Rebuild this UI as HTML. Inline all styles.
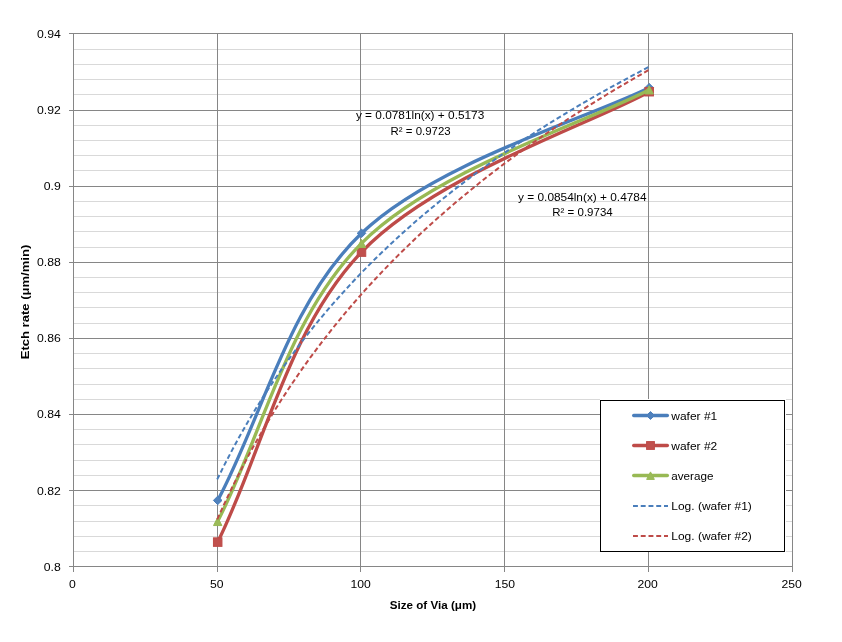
<!DOCTYPE html>
<html lang="en"><head><meta charset="utf-8"><title>Etch rate vs Size of Via</title>
<style>html,body{margin:0;padding:0;background:#fff}body{width:842px;height:642px;overflow:hidden}</style></head>
<body>
<svg width="842" height="642" viewBox="0 0 842 642" style="display:block;font-family:'Liberation Sans', sans-serif">
<rect width="842" height="642" fill="#fff"/>
<path d="M73 49.5H793M73 64.5H793M73 79.5H793M73 94.5H793M73 125.5H793M73 140.5H793M73 155.5H793M73 170.5H793M73 201.5H793M73 216.5H793M73 231.5H793M73 247.5H793M73 277.5H793M73 292.5H793M73 307.5H793M73 323.5H793M73 353.5H793M73 368.5H793M73 384.5H793M73 399.5H793M73 429.5H793M73 444.5H793M73 460.5H793M73 475.5H793M73 505.5H793M73 521.5H793M73 536.5H793M73 551.5H793" stroke="#d9d9d9" stroke-width="1" fill="none" shape-rendering="crispEdges"/>
<path d="M69 33.5H793M69 110.5H793M69 186.5H793M69 262.5H793M69 338.5H793M69 414.5H793M69 490.5H793M69 566.5H793M73.5 33V572M217.5 33V572M360.5 33V572M504.5 33V572M648.5 33V572M792.5 33V572" stroke="#868686" stroke-width="1" fill="none" shape-rendering="crispEdges"/>
<path d="M217.7 500.4 C262.3 417.6 287.3 304.3 361.5 233.3 C435.7 162.3 591.7 116.8 649.2 87.7" stroke="#4a7ebb" stroke-width="3.3" fill="none" stroke-linecap="round" stroke-linejoin="round"/>
<path d="M217.7 496.1L222.0 500.4L217.7 504.7L213.4 500.4Z" fill="#4f81bd" stroke="#4a7ebb" stroke-width="1" stroke-linejoin="miter"/>
<path d="M361.5 229.0L365.8 233.3L361.5 237.6L357.2 233.3Z" fill="#4f81bd" stroke="#4a7ebb" stroke-width="1" stroke-linejoin="miter"/>
<path d="M649.2 83.4L653.5 87.7L649.2 92.0L644.9 87.7Z" fill="#4f81bd" stroke="#4a7ebb" stroke-width="1" stroke-linejoin="miter"/>
<path d="M217.7 542.1 C262.3 452.2 287.3 329.6 361.5 252.1 C435.7 174.6 591.7 123.8 649.2 91.7" stroke="#be4b48" stroke-width="3.3" fill="none" stroke-linecap="round" stroke-linejoin="round"/>
<rect x="213.45" y="537.85" width="8.5" height="8.5" fill="#c0504d" stroke="#be4b48" stroke-width="1" stroke-linejoin="miter"/>
<rect x="357.25" y="247.85" width="8.5" height="8.5" fill="#c0504d" stroke="#be4b48" stroke-width="1" stroke-linejoin="miter"/>
<rect x="644.95" y="87.45" width="8.5" height="8.5" fill="#c0504d" stroke="#be4b48" stroke-width="1" stroke-linejoin="miter"/>
<path d="M217.7 521.3 C262.3 435.1 287.3 317.5 361.5 243.3 C435.7 169.1 591.7 120.4 649.2 89.7" stroke="#98b954" stroke-width="3.3" fill="none" stroke-linecap="round" stroke-linejoin="round"/>
<path d="M217.7 517.35L221.9 525.55L213.5 525.55Z" fill="#9bbb59" stroke="#98b954" stroke-width="1" stroke-linejoin="miter"/>
<path d="M361.5 239.35L365.7 247.55L357.3 247.55Z" fill="#9bbb59" stroke="#98b954" stroke-width="1" stroke-linejoin="miter"/>
<path d="M649.2 85.75L653.4 93.95L645.0 93.95Z" fill="#9bbb59" stroke="#98b954" stroke-width="1" stroke-linejoin="miter"/>
<path d="M217.2 479.4 L224.4 464.9 L231.6 451.1 L238.8 437.8 L246.0 425.2 L253.1 413.1 L260.3 401.4 L267.5 390.2 L274.7 379.4 L281.9 368.9 L289.1 358.8 L296.3 349.1 L303.4 339.6 L310.6 330.5 L317.8 321.6 L325.0 313.0 L332.2 304.6 L339.4 296.5 L346.6 288.6 L353.8 280.8 L360.9 273.3 L368.1 266.0 L375.3 258.8 L382.5 251.8 L389.7 245.0 L396.9 238.3 L404.1 231.7 L411.3 225.3 L418.4 219.1 L425.6 213.0 L432.8 207.0 L440.0 201.1 L447.2 195.3 L454.4 189.6 L461.6 184.1 L468.8 178.6 L475.9 173.3 L483.1 168.0 L490.3 162.8 L497.5 157.7 L504.7 152.7 L511.9 147.8 L519.1 143.0 L526.3 138.2 L533.4 133.5 L540.6 128.9 L547.8 124.4 L555.0 119.9 L562.2 115.5 L569.4 111.2 L576.6 106.9 L583.8 102.7 L590.9 98.5 L598.1 94.4 L605.3 90.4 L612.5 86.4 L619.7 82.5 L626.9 78.6 L634.1 74.7 L641.3 70.9 L648.4 67.2" stroke="#4a7ebb" stroke-width="2" stroke-dasharray="4.9 2.828" fill="none"/>
<path d="M217.2 519.4 L224.4 503.6 L231.6 488.5 L238.8 474.1 L246.0 460.3 L253.1 447.1 L260.3 434.4 L267.5 422.2 L274.7 410.4 L281.9 399.0 L289.1 388.0 L296.3 377.4 L303.4 367.1 L310.6 357.1 L317.8 347.5 L325.0 338.1 L332.2 328.9 L339.4 320.1 L346.6 311.4 L353.8 303.0 L360.9 294.8 L368.1 286.8 L375.3 279.0 L382.5 271.4 L389.7 263.9 L396.9 256.6 L404.1 249.5 L411.3 242.5 L418.4 235.7 L425.6 229.0 L432.8 222.5 L440.0 216.1 L447.2 209.8 L454.4 203.6 L461.6 197.6 L468.8 191.6 L475.9 185.8 L483.1 180.0 L490.3 174.4 L497.5 168.9 L504.7 163.4 L511.9 158.1 L519.1 152.8 L526.3 147.6 L533.4 142.5 L540.6 137.5 L547.8 132.5 L555.0 127.7 L562.2 122.9 L569.4 118.1 L576.6 113.5 L583.8 108.9 L590.9 104.3 L598.1 99.9 L605.3 95.5 L612.5 91.1 L619.7 86.8 L626.9 82.6 L634.1 78.4 L641.3 74.3 L648.4 70.2" stroke="#be4b48" stroke-width="2" stroke-dasharray="4.9 2.870" fill="none"/>
<text x="37.0" y="38" font-size="11.6" text-anchor="start" font-weight="normal" fill="#000000" textLength="23.8" lengthAdjust="spacingAndGlyphs">0.94</text>
<text x="37.0" y="114" font-size="11.6" text-anchor="start" font-weight="normal" fill="#000000" textLength="23.8" lengthAdjust="spacingAndGlyphs">0.92</text>
<text x="43.8" y="190" font-size="11.6" text-anchor="start" font-weight="normal" fill="#000000" textLength="17.0" lengthAdjust="spacingAndGlyphs">0.9</text>
<text x="37.0" y="266" font-size="11.6" text-anchor="start" font-weight="normal" fill="#000000" textLength="23.8" lengthAdjust="spacingAndGlyphs">0.88</text>
<text x="37.0" y="342" font-size="11.6" text-anchor="start" font-weight="normal" fill="#000000" textLength="23.8" lengthAdjust="spacingAndGlyphs">0.86</text>
<text x="37.0" y="418" font-size="11.6" text-anchor="start" font-weight="normal" fill="#000000" textLength="23.8" lengthAdjust="spacingAndGlyphs">0.84</text>
<text x="37.0" y="495" font-size="11.6" text-anchor="start" font-weight="normal" fill="#000000" textLength="23.8" lengthAdjust="spacingAndGlyphs">0.82</text>
<text x="43.8" y="571" font-size="11.6" text-anchor="start" font-weight="normal" fill="#000000" textLength="17.0" lengthAdjust="spacingAndGlyphs">0.8</text>
<text x="69.0" y="588" font-size="11.6" text-anchor="start" font-weight="normal" fill="#000000" textLength="6.8" lengthAdjust="spacingAndGlyphs">0</text>
<text x="210.1" y="588" font-size="11.6" text-anchor="start" font-weight="normal" fill="#000000" textLength="13.5" lengthAdjust="spacingAndGlyphs">50</text>
<text x="350.4" y="588" font-size="11.6" text-anchor="start" font-weight="normal" fill="#000000" textLength="20.3" lengthAdjust="spacingAndGlyphs">100</text>
<text x="494.7" y="588" font-size="11.6" text-anchor="start" font-weight="normal" fill="#000000" textLength="20.3" lengthAdjust="spacingAndGlyphs">150</text>
<text x="637.4" y="588" font-size="11.6" text-anchor="start" font-weight="normal" fill="#000000" textLength="20.3" lengthAdjust="spacingAndGlyphs">200</text>
<text x="781.4" y="588" font-size="11.6" text-anchor="start" font-weight="normal" fill="#000000" textLength="20.3" lengthAdjust="spacingAndGlyphs">250</text>
<text x="389.8" y="609.1" font-size="11" text-anchor="start" font-weight="bold" fill="#000000" textLength="86.3" lengthAdjust="spacingAndGlyphs">Size of Via (μm)</text>
<text x="0" y="0" font-size="11" text-anchor="start" font-weight="bold" fill="#000000" textLength="114.6" lengthAdjust="spacingAndGlyphs" transform="translate(29.2 359.3) rotate(-90)">Etch rate (μm/min)</text>
<text x="355.9" y="119" font-size="11.6" text-anchor="start" font-weight="normal" fill="#000000" textLength="128.4" lengthAdjust="spacingAndGlyphs">y = 0.0781ln(x) + 0.5173</text>
<text x="390.6" y="135.1" font-size="11.6" text-anchor="start" font-weight="normal" fill="#000000" textLength="60" lengthAdjust="spacingAndGlyphs">R² = 0.9723</text>
<text x="518.1" y="200.5" font-size="11.6" text-anchor="start" font-weight="normal" fill="#000000" textLength="128.4" lengthAdjust="spacingAndGlyphs">y = 0.0854ln(x) + 0.4784</text>
<text x="552.3" y="216.4" font-size="11.6" text-anchor="start" font-weight="normal" fill="#000000" textLength="60.4" lengthAdjust="spacingAndGlyphs">R² = 0.9734</text>
<rect x="600" y="399" width="186" height="153" fill="#fff"/>
<rect x="600.5" y="400.5" width="184" height="151" fill="#fff" stroke="#000" stroke-width="1" shape-rendering="crispEdges"/>
<path d="M633.7 415.5H667.4" stroke="#4a7ebb" stroke-width="3.3" stroke-linecap="round" fill="none"/>
<path d="M650.5 411.55L654.45 415.5L650.5 419.45L646.55 415.5Z" fill="#4f81bd" stroke="#4a7ebb" stroke-width="1" stroke-linejoin="miter"/>
<text x="671.3" y="419.7" font-size="11.6" text-anchor="start" font-weight="normal" fill="#000000" textLength="45.9" lengthAdjust="spacingAndGlyphs">wafer #1</text>
<path d="M633.7 445.5H667.4" stroke="#be4b48" stroke-width="3.3" stroke-linecap="round" fill="none"/>
<rect x="646.6" y="441.6" width="7.8" height="7.8" fill="#c0504d" stroke="#be4b48" stroke-width="1" stroke-linejoin="miter"/>
<text x="671.3" y="449.7" font-size="11.6" text-anchor="start" font-weight="normal" fill="#000000" textLength="45.9" lengthAdjust="spacingAndGlyphs">wafer #2</text>
<path d="M633.7 475.5H667.4" stroke="#98b954" stroke-width="3.3" stroke-linecap="round" fill="none"/>
<path d="M650.5 471.9L654.35 479.4L646.65 479.4Z" fill="#9bbb59" stroke="#98b954" stroke-width="1" stroke-linejoin="miter"/>
<text x="671.3" y="479.7" font-size="11.6" text-anchor="start" font-weight="normal" fill="#000000" textLength="42.1" lengthAdjust="spacingAndGlyphs">average</text>
<path d="M633 505.9H668" stroke="#4a7ebb" stroke-width="2" stroke-dasharray="4.9 2.85" fill="none"/>
<text x="671.3" y="510.1" font-size="11.6" text-anchor="start" font-weight="normal" fill="#000000" textLength="80.5" lengthAdjust="spacingAndGlyphs">Log. (wafer #1)</text>
<path d="M633 536.0H668" stroke="#be4b48" stroke-width="2" stroke-dasharray="4.9 2.85" fill="none"/>
<text x="671.3" y="540.2" font-size="11.6" text-anchor="start" font-weight="normal" fill="#000000" textLength="80.5" lengthAdjust="spacingAndGlyphs">Log. (wafer #2)</text>
</svg>
</body></html>
